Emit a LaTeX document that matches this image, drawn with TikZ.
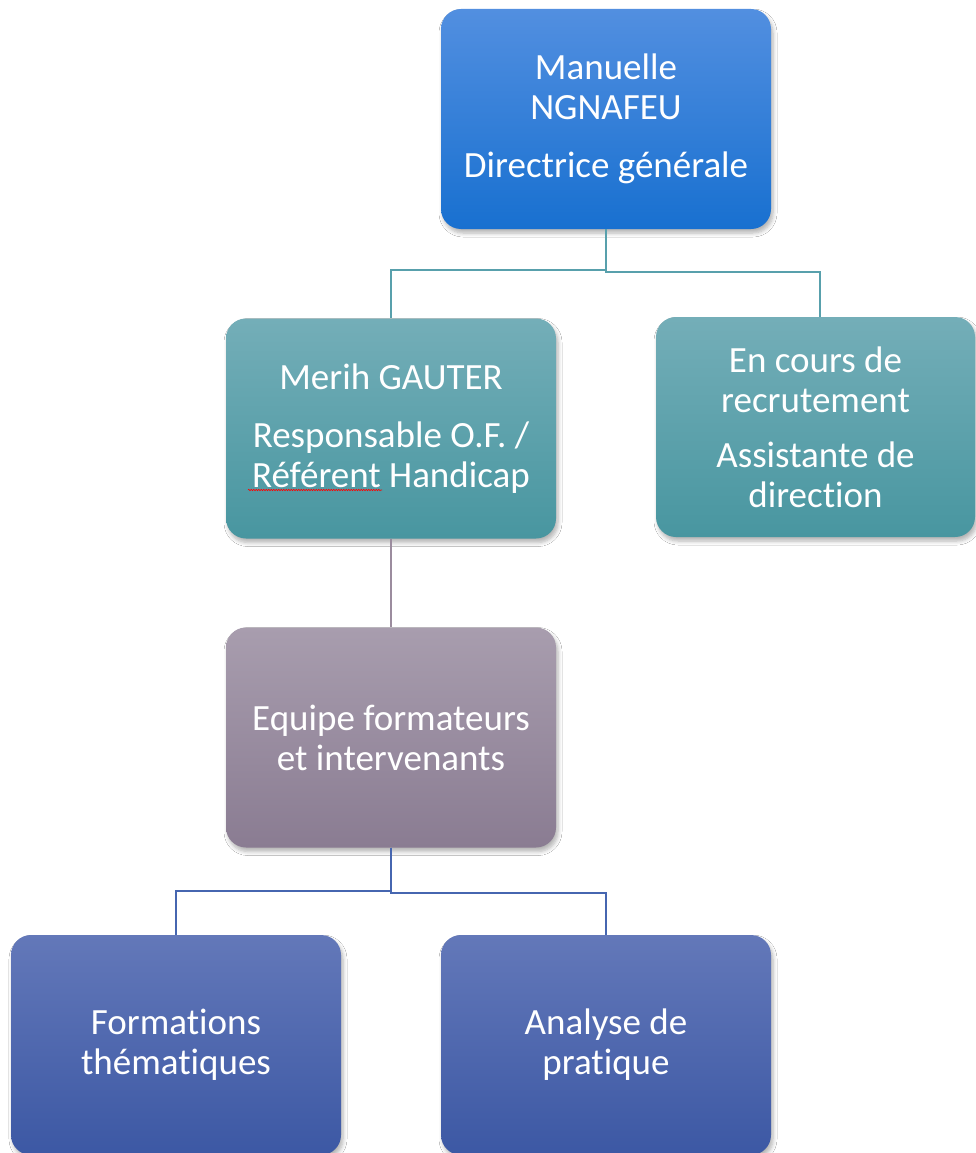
\documentclass[tikz,border=0pt]{standalone}
\usepackage{fontspec}
\setmainfont{Carlito}[RawFeature={-liga}]
\usetikzlibrary{shadows.blur,decorations.pathmorphing}
\definecolor{topT}{RGB}{82,143,224}
\definecolor{topB}{RGB}{24,112,208}
\definecolor{tealT}{RGB}{116,174,184}
\definecolor{tealB}{RGB}{72,150,160}
\definecolor{purpT}{RGB}{168,157,174}
\definecolor{purpB}{RGB}{138,124,146}
\definecolor{blueT}{RGB}{99,120,185}
\definecolor{blueB}{RGB}{60,88,164}
\definecolor{tealL}{RGB}{88,160,172}
\definecolor{purpL}{RGB}{155,140,158}
\definecolor{blueL}{RGB}{70,102,176}
\begin{document}
\begin{tikzpicture}[x=1pt,y=-1pt,
  box/.style={rounded corners=20pt, minimum width=330pt, minimum height=220pt,
    inner sep=0pt, align=center, text=white,
    font=\fontsize{37}{40}\selectfont,
    blur shadow={shadow xshift=2pt, shadow yshift=-4pt, shadow blur steps=6,
      shadow opacity=30, shadow blur radius=4pt}},
  topbox/.style={box, top color=topT, bottom color=topB},
  tealbox/.style={box, top color=tealT, bottom color=tealB},
  purpbox/.style={box, top color=purpT, bottom color=purpB},
  bluebox/.style={box, top color=blueT, bottom color=blueB},
  conn/.style={line width=2.2pt}]
\clip (0,0) rectangle (976,1153);
\fill[white] (0,0) rectangle (976,1153);

\node[topbox] (top) at (606,119) {Manuelle\\NGNAFEU\\[18pt]Directrice générale};
\node[tealbox] (merih) at (391,428.5) {Merih GAUTER\\[18pt]Responsable O.F. /\\Référent Handicap};
\node[tealbox, minimum width=319pt] (enc) at (815.5,427) {En cours de\\recrutement\\[15pt]Assistante de\\direction};
\node[purpbox] (equipe) at (391,737.5) {Equipe formateurs\\et intervenants};
\node[bluebox] (form) at (176,1045) {Formations\\thématiques};
\node[bluebox] (ana) at (606,1045) {Analyse de\\pratique};

\draw[red, line width=0.6pt, decorate,
  decoration={snake, amplitude=0.7pt, segment length=2.5pt}] (248,490) -- (382,490);

\draw[conn, tealL] (top.south) -- ++(0,41) -| (merih.north);
\draw[conn, tealL] (top.south) -- ++(0,43) -| ($(enc.north)+(4.5,0)$);
\draw[conn, purpL] (merih.south) -- (equipe.north);
\draw[conn, blueL] (equipe.south) -- ++(0,43) -| (form.north);
\draw[conn, blueL] (equipe.south) -- ++(0,45) -| (ana.north);
\end{tikzpicture}
\end{document}
